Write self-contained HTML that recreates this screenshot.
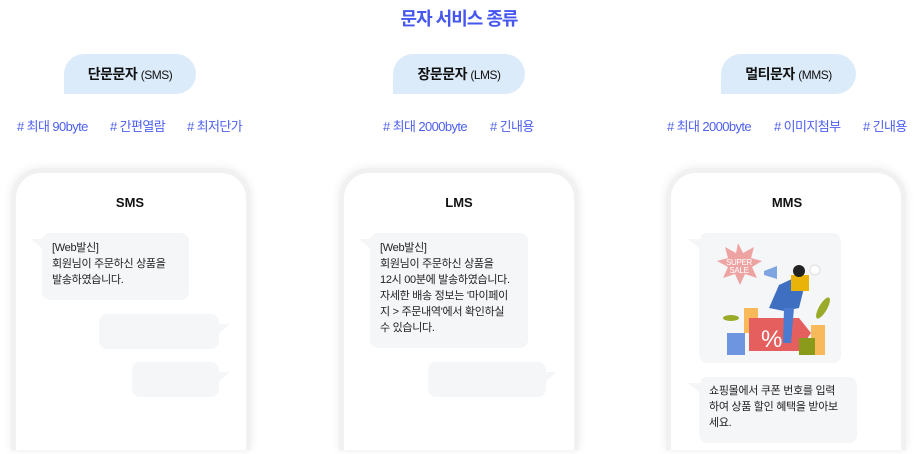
<!DOCTYPE html>
<html><head><meta charset="utf-8"><style>
*{margin:0;padding:0;box-sizing:border-box}
html,body{width:918px;height:454px;overflow:hidden}
body{background:#fff;position:relative;font-family:"Liberation Sans","Noto Sans CJK KR",sans-serif;color:#222}
.a{position:absolute}
.title{left:0;width:918px;top:5px;text-align:center;font-size:18px;font-weight:bold;color:#4656f0;letter-spacing:-1px}
.pill{height:40px;top:54px;background:#dcebfa;border-radius:20px 20px 20px 0;font-size:14px;font-weight:bold;line-height:40px;text-align:center;color:#111;letter-spacing:-0.5px}
.pill span{font-weight:normal;font-size:12px}
.tag{top:116px;font-size:13px;color:#4e60f2;letter-spacing:-0.6px}
.phone{top:168px;width:240px;height:282px;border:5px solid #f1f1f1;border-bottom:none;border-radius:30px 30px 0 0;background:#fff;box-shadow:0 0 10px rgba(0,0,0,0.08)}
.ph{top:195px;width:120px;text-align:center;font-size:13px;font-weight:bold;color:#111}
.b{background:#f5f6f8;border-radius:8px;font-size:11px;line-height:16px;color:#222;padding:7px 10px;letter-spacing:-0.3px}
.tl{position:absolute;left:-11px;top:6px;width:0;height:0;border-right:12px solid #f5f6f8;border-bottom:10px solid transparent}
.tr{position:absolute;right:-11px;top:10px;width:0;height:0;border-left:12px solid #f5f6f8;border-bottom:10px solid transparent}
</style></head><body>
<div class="a title">문자 서비스 종류</div>

<div class="a pill" style="left:64px;width:132px">단문문자 <span>(SMS)</span></div>
<div class="a pill" style="left:393px;width:132px">장문문자 <span>(LMS)</span></div>
<div class="a pill" style="left:721px;width:135px">멀티문자 <span>(MMS)</span></div>

<div class="a tag" style="left:17px"># 최대 90byte</div>
<div class="a tag" style="left:110px"># 간편열람</div>
<div class="a tag" style="left:187px"># 최저단가</div>
<div class="a tag" style="left:383px"># 최대 2000byte</div>
<div class="a tag" style="left:490px"># 긴내용</div>
<div class="a tag" style="left:667px"># 최대 2000byte</div>
<div class="a tag" style="left:774px"># 이미지첨부</div>
<div class="a tag" style="left:863px"># 긴내용</div>

<div class="a phone" style="left:11px"></div>
<div class="a phone" style="left:339px"></div>
<div class="a phone" style="left:666px"></div>

<div class="a ph" style="left:70px">SMS</div>
<div class="a ph" style="left:399px">LMS</div>
<div class="a ph" style="left:727px">MMS</div>

<div class="a b" style="left:42px;top:233px;width:147px;height:67px"><div class="tl"></div>[Web발신]<br>회원님이 주문하신 상품을<br>발송하였습니다.</div>
<div class="a b" style="left:99px;top:314px;width:120px;height:35px"><div class="tr"></div></div>
<div class="a b" style="left:132px;top:362px;width:87px;height:35px"><div class="tr"></div></div>

<div class="a b" style="left:370px;top:233px;width:158px;height:115px"><div class="tl"></div>[Web발신]<br>회원님이 주문하신 상품을<br>12시 00분에 발송하였습니다.<br>자세한 배송 정보는 '마이페이<br>지 &gt; 주문내역'에서 확인하실<br>수 있습니다.</div>
<div class="a b" style="left:428px;top:362px;width:118px;height:35px"><div class="tr"></div></div>

<div class="a b" style="left:699px;top:233px;width:142px;height:130px;padding:0"><div class="tl"></div>
<svg width="142" height="130" style="position:absolute;left:0;top:0">
<polygon points="39,10 44,20 55,14 52,25 63,28 53,34 58,45 46,41 41,52 36,41 24,45 29,34 18,28 29,25 26,14 37,20" fill="#eea3a3"/>
<text x="40" y="32" font-size="8" fill="#fff" text-anchor="middle" font-family="Liberation Sans">SUPER</text>
<text x="40" y="40" font-size="8" fill="#fff" text-anchor="middle" font-family="Liberation Sans">SALE</text>
<polygon points="65,38 78,33 78,46 65,42" fill="#7fa5e0"/>
<rect x="45" y="75" width="14" height="25" fill="#f7b95a"/>
<rect x="28" y="100" width="18" height="22" fill="#6d95e0"/>
<path d="M50,85 H100 L112,100 L100,118 H50 Z" fill="#e55f5f"/>
<text x="62" y="114" font-size="24" fill="#fff" font-family="Liberation Sans">%</text>
<path d="M80,52 L95,45 L105,55 L100,75 L85,78 L70,75 Z" fill="#3f6fc0"/>
<rect x="92" y="42" width="18" height="16" fill="#eab308"/>
<circle cx="100" cy="38" r="6" fill="#222"/>
<path d="M85,75 L95,75 L92,110 L84,110 Z" fill="#4a7bd0"/>
<rect x="112" y="92" width="14" height="30" fill="#f7b95a"/>
<rect x="100" y="105" width="16" height="17" fill="#8a9a1a"/>
<ellipse cx="124" cy="75" rx="4" ry="12" fill="#9aab2a" transform="rotate(30 124 75)"/>
<ellipse cx="32" cy="85" rx="8" ry="3" fill="#9aab2a"/>
<circle cx="116" cy="37" r="5" fill="#fff" stroke="#ddd"/>
</svg></div>
<div class="a b" style="left:699px;top:377px;width:158px;height:66px;padding:6px 10px"><div class="tl"></div>쇼핑몰에서 쿠폰 번호를 입력<br>하여 상품 할인 혜택을 받아보<br>세요.</div>
</body></html>
